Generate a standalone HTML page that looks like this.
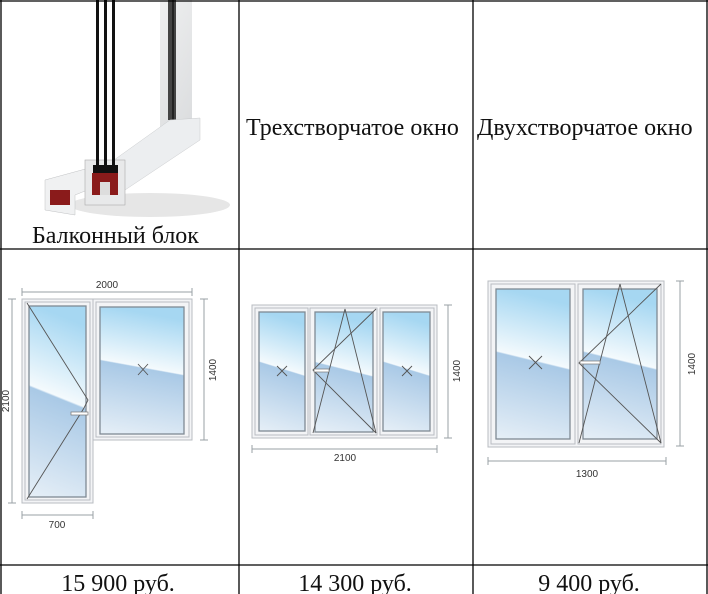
<!DOCTYPE html>
<html><head><meta charset="utf-8"><style>
html,body{margin:0;padding:0;background:#fff;}
svg{display:block;}
text{font-family:"Liberation Serif","DejaVu Serif",serif;fill:#111;}
.d{font-family:"Liberation Sans","DejaVu Sans",sans-serif;font-size:10px;fill:#333;}
.fr{fill:#f3f4f6;stroke:#b8bcc2;stroke-width:1;}
.gl{fill:url(#sky);stroke:#7f8a94;stroke-width:1.3;}
.dm{stroke:#9aa0a6;stroke-width:1;fill:none;}
.ln{stroke:#555;stroke-width:0.9;fill:none;}
</style></head><body>
<svg width="708" height="594" viewBox="0 0 708 594" xmlns="http://www.w3.org/2000/svg">
<defs>
<linearGradient id="sky" x1="0.12" y1="0" x2="0" y2="1">
<stop offset="0" stop-color="#a6d7f2"/>
<stop offset="0.42" stop-color="#f4fafd"/>
<stop offset="0.43" stop-color="#a9c9e6"/>
<stop offset="1" stop-color="#e6eff7"/>
</linearGradient>
<linearGradient id="prof" x1="0" y1="0" x2="1" y2="1">
<stop offset="0" stop-color="#fafafa"/><stop offset="1" stop-color="#d6d8da"/>
</linearGradient>
</defs>
<rect x="0" y="0" width="708" height="594" fill="#fff"/>

<!-- photo -->
<ellipse cx="150" cy="205" rx="80" ry="12" fill="#e6e6e6"/>
<polygon points="160,0 192,0 192,125 120,175 105,170 160,128" fill="url(#prof)"/>
<rect x="168" y="0" width="8" height="120" fill="#444"/>
<rect x="172" y="0" width="2" height="120" fill="#222"/>
<polygon points="100,170 170,120 200,118 200,140 125,190" fill="#eceef0" stroke="#c9cbcd" stroke-width="0.5"/>
<polygon points="45,180 100,165 125,175 75,195 75,215 45,210" fill="#f0f1f2" stroke="#c0c2c4" stroke-width="0.5"/>
<rect x="85" y="160" width="40" height="45" fill="#e8e9ea" stroke="#aaa" stroke-width="0.6"/>
<rect x="93" y="165" width="25" height="8" fill="#111"/>
<rect x="92" y="173" width="26" height="22" fill="#8a1b1b"/>
<rect x="100" y="182" width="10" height="13" fill="#ddd"/>
<rect x="50" y="190" width="20" height="15" fill="#8a1b1b"/>
<rect x="96" y="0" width="3" height="167" fill="#111"/>
<rect x="104" y="0" width="3" height="167" fill="#111"/>
<rect x="112" y="0" width="3" height="167" fill="#111"/>
<text x="32" y="243" font-size="24">Балконный блок</text>

<text x="246" y="135" font-size="24">Трехстворчатое окно</text>
<text x="477" y="135" font-size="24">Двухстворчатое окно</text>

<!-- balcony block -->
<g>
<line class="dm" x1="22" y1="292" x2="192" y2="292"/><line class="dm" x1="22" y1="288" x2="22" y2="296"/><line class="dm" x1="192" y1="288" x2="192" y2="296"/>
<text class="d" x="107" y="288" text-anchor="middle">2000</text>
<line class="dm" x1="12" y1="299" x2="12" y2="503"/><line class="dm" x1="8" y1="299" x2="16" y2="299"/><line class="dm" x1="8" y1="503" x2="16" y2="503"/>
<text class="d" transform="translate(9,401) rotate(-90)" text-anchor="middle">2100</text>
<line class="dm" x1="204" y1="299" x2="204" y2="440"/><line class="dm" x1="200" y1="299" x2="208" y2="299"/><line class="dm" x1="200" y1="440" x2="208" y2="440"/>
<text class="d" transform="translate(216,370) rotate(-90)" text-anchor="middle">1400</text>
<line class="dm" x1="22" y1="515" x2="93" y2="515"/><line class="dm" x1="22" y1="511" x2="22" y2="519"/><line class="dm" x1="93" y1="511" x2="93" y2="519"/>
<text class="d" x="57" y="528" text-anchor="middle">700</text>
<rect class="fr" x="22" y="299" width="71" height="204"/>
<rect class="fr" x="93" y="299" width="99" height="141"/>
<rect class="fr" x="25" y="302" width="65" height="198"/>
<rect class="fr" x="96" y="302" width="93" height="135"/>
<rect class="gl" x="29" y="306" width="57" height="191"/>
<rect class="gl" x="100" y="307" width="84" height="127"/>
<polyline class="ln" points="27,303 88,400 84,408 27,499"/>
<rect x="71" y="412" width="17" height="3" fill="#fff" stroke="#777" stroke-width="0.7"/>
<path class="ln" d="M138,364 L148,375 M148,364 L138,375"/>
</g>

<!-- three-panel -->
<g>
<rect class="fr" x="252" y="305" width="185" height="133"/>
<rect class="fr" x="255" y="308" width="53" height="127"/>
<rect class="fr" x="310" y="308" width="67" height="127"/>
<rect class="fr" x="380" y="308" width="54" height="127"/>
<rect class="gl" x="259" y="312" width="46" height="119"/>
<rect class="gl" x="315" y="312" width="58" height="120"/>
<rect class="gl" x="383" y="312" width="47" height="119"/>
<polyline class="ln" points="313,433 345,309 376,433"/>
<polyline class="ln" points="376,309 313,370 376,433"/>
<rect x="314" y="369" width="15" height="3" fill="#fff" stroke="#777" stroke-width="0.7"/>
<path class="ln" d="M277,366 L287,376 M287,366 L277,376"/>
<path class="ln" d="M402,366 L412,376 M412,366 L402,376"/>
<line class="dm" x1="252" y1="449" x2="437" y2="449"/><line class="dm" x1="252" y1="445" x2="252" y2="453"/><line class="dm" x1="437" y1="445" x2="437" y2="453"/>
<text class="d" x="345" y="461" text-anchor="middle">2100</text>
<line class="dm" x1="448" y1="305" x2="448" y2="438"/><line class="dm" x1="444" y1="305" x2="452" y2="305"/><line class="dm" x1="444" y1="438" x2="452" y2="438"/>
<text class="d" transform="translate(460,371) rotate(-90)" text-anchor="middle">1400</text>
</g>

<!-- two-panel -->
<g>
<rect class="fr" x="488" y="281" width="176" height="166"/>
<rect class="fr" x="491" y="284" width="84" height="160"/>
<rect class="fr" x="578" y="284" width="83" height="160"/>
<rect class="gl" x="496" y="289" width="74" height="150"/>
<rect class="gl" x="583" y="289" width="74" height="150"/>
<polyline class="ln" points="579,443 620,284 661,443"/>
<polyline class="ln" points="661,284 579,363 661,443"/>
<rect x="580" y="361" width="20" height="3" fill="#fff" stroke="#777" stroke-width="0.7"/>
<path class="ln" d="M529,356 L542,369 M542,356 L529,369"/>
<line class="dm" x1="488" y1="461" x2="666" y2="461"/><line class="dm" x1="488" y1="457" x2="488" y2="465"/><line class="dm" x1="666" y1="457" x2="666" y2="465"/>
<text class="d" x="587" y="477" text-anchor="middle" font-size="13">1300</text>
<line class="dm" x1="680" y1="281" x2="680" y2="446"/><line class="dm" x1="676" y1="281" x2="684" y2="281"/><line class="dm" x1="676" y1="446" x2="684" y2="446"/>
<text class="d" transform="translate(695,364) rotate(-90)" text-anchor="middle" font-size="13">1400</text>
</g>

<text x="118" y="591" font-size="24" text-anchor="middle">15 900 руб.</text>
<text x="355" y="591" font-size="24" text-anchor="middle">14 300 руб.</text>
<text x="589" y="591" font-size="24" text-anchor="middle">9 400 руб.</text>

<!-- table grid -->
<g stroke="#000" stroke-width="1.3" fill="none">
<line x1="1" y1="0" x2="1" y2="594"/>
<line x1="239" y1="0" x2="239" y2="594"/>
<line x1="473" y1="0" x2="473" y2="594"/>
<line x1="707" y1="0" x2="707" y2="594"/>
<line x1="0" y1="1" x2="708" y2="1"/>
<line x1="0" y1="249" x2="708" y2="249"/>
<line x1="0" y1="565" x2="708" y2="565"/>
</g>
</svg>
</body></html>
